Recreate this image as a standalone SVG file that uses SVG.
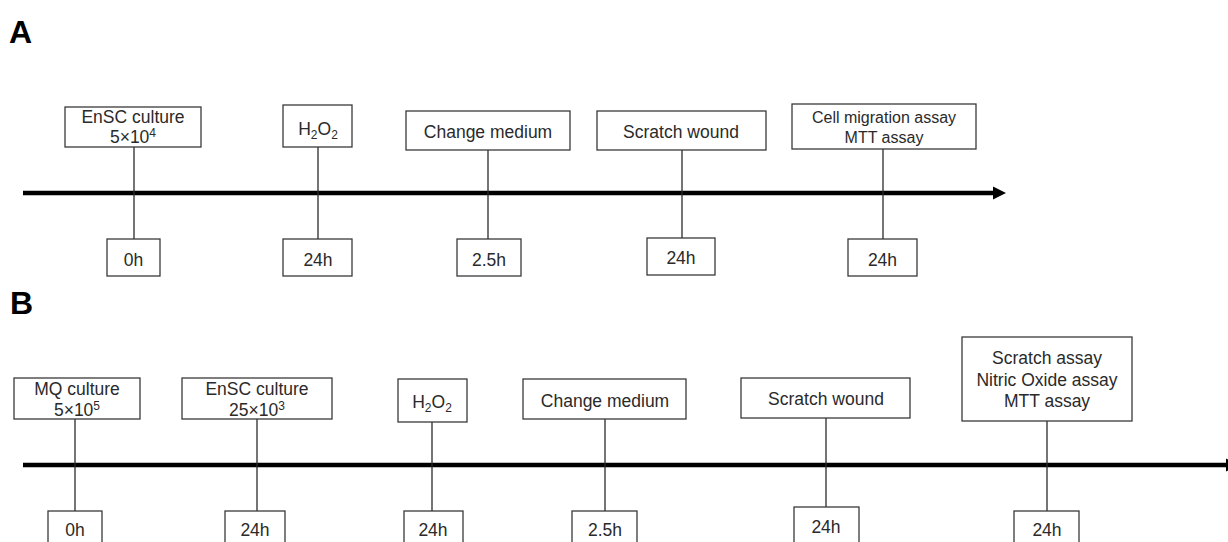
<svg xmlns="http://www.w3.org/2000/svg" width="1228" height="542" viewBox="0 0 1228 542">
<defs>
<style>
.bg{fill:#ffffff}
.box{fill:#ffffff;stroke:#3a3a3a;stroke-width:1.3}
.t{font-family:"Liberation Sans",Arial,sans-serif;font-size:17.5px;fill:#2a2a2a;text-anchor:middle}
.ts{font-size:16px}
.sub{font-size:12px}
.lbl{font-family:"Liberation Sans",Arial,sans-serif;font-size:32px;font-weight:bold;fill:#000}
.conn{stroke:#2a2a2a;stroke-width:1.3;fill:none}
.axis{stroke:#000;stroke-width:4.5;fill:none}
.head{fill:#000}
</style>
</defs>
<rect class="bg" x="0" y="0" width="1228" height="542"/>
<text class="lbl" x="9" y="43">A</text>
<text class="lbl" x="10" y="314">B</text>

<g id="connectors">
<line class="axis" x1="23" y1="193" x2="995" y2="193"/>
<polygon class="head" points="993,186.5 1006,193 993,199.5"/>
<line class="conn" x1="134" y1="147" x2="134" y2="239"/>
<line class="conn" x1="318" y1="147" x2="318" y2="239"/>
<line class="conn" x1="488" y1="150" x2="488" y2="239"/>
<line class="conn" x1="682" y1="150" x2="682" y2="238"/>
<line class="conn" x1="883" y1="149" x2="883" y2="239"/>

<line class="axis" x1="23" y1="465" x2="1228" y2="465"/>
<polygon class="head" points="1226,458.5 1239,465 1226,471.5"/>
<line class="conn" x1="75" y1="419" x2="75" y2="511"/>
<line class="conn" x1="257" y1="419" x2="257" y2="511"/>
<line class="conn" x1="432" y1="422" x2="432" y2="511"/>
<line class="conn" x1="605" y1="419" x2="605" y2="511"/>
<line class="conn" x1="826" y1="418" x2="826" y2="507"/>
<line class="conn" x1="1047" y1="421" x2="1047" y2="511"/>
</g>

<!-- Panel A top nodes -->
<g id="a-ensc">
<rect class="box" x="65" y="107" width="136" height="40"/>
<text class="t" x="133" y="123">EnSC culture</text>
<text class="t" x="133" y="143">5×10<tspan class="sub" dy="-6">4</tspan></text>
</g>
<g id="a-h2o2">
<rect class="box" x="283" y="105" width="69" height="42"/>
<text class="t" x="318" y="135">H<tspan class="sub" dy="4">2</tspan><tspan dy="-4">O</tspan><tspan class="sub" dy="4">2</tspan></text>
</g>
<g id="a-change">
<rect class="box" x="406" y="111" width="164" height="39"/>
<text class="t" x="488" y="137.5">Change medium</text>
</g>
<g id="a-scratch">
<rect class="box" x="597" y="111" width="169" height="39"/>
<text class="t" x="681" y="137.5">Scratch wound</text>
</g>
<g id="a-assay">
<rect class="box" x="792" y="104" width="184" height="45"/>
<text class="t ts" x="884" y="123">Cell migration assay</text>
<text class="t ts" x="884" y="143">MTT assay</text>
</g>

<!-- Panel A time nodes -->
<g id="a-t0">
<rect class="box" x="107" y="239" width="53" height="37"/>
<text class="t" x="133.5" y="266">0h</text>
</g>
<g id="a-t1">
<rect class="box" x="283" y="239" width="69" height="37"/>
<text class="t" x="318" y="266">24h</text>
</g>
<g id="a-t2">
<rect class="box" x="457" y="239" width="64" height="37"/>
<text class="t" x="489" y="266">2.5h</text>
</g>
<g id="a-t3">
<rect class="box" x="647" y="238" width="68" height="37"/>
<text class="t" x="681" y="264">24h</text>
</g>
<g id="a-t4">
<rect class="box" x="848" y="239" width="69" height="37"/>
<text class="t" x="882.5" y="266">24h</text>
</g>

<!-- Panel B top nodes -->
<g id="b-mq">
<rect class="box" x="14" y="378" width="126" height="41"/>
<text class="t" x="77" y="395">MQ culture</text>
<text class="t" x="77" y="416">5×10<tspan class="sub" dy="-6">5</tspan></text>
</g>
<g id="b-ensc">
<rect class="box" x="182" y="378" width="150" height="41"/>
<text class="t" x="257" y="395">EnSC culture</text>
<text class="t" x="257" y="416">25×10<tspan class="sub" dy="-6">3</tspan></text>
</g>
<g id="b-h2o2">
<rect class="box" x="398" y="379" width="69" height="43"/>
<text class="t" x="432" y="408">H<tspan class="sub" dy="4">2</tspan><tspan dy="-4">O</tspan><tspan class="sub" dy="4">2</tspan></text>
</g>
<g id="b-change">
<rect class="box" x="523" y="379" width="163" height="40"/>
<text class="t" x="605" y="406.5">Change medium</text>
</g>
<g id="b-scratch">
<rect class="box" x="741" y="378" width="169" height="40"/>
<text class="t" x="826" y="405">Scratch wound</text>
</g>
<g id="b-assay">
<rect class="box" x="962" y="337" width="170" height="84"/>
<text class="t" x="1047" y="364">Scratch assay</text>
<text class="t" x="1047" y="385.5">Nitric Oxide assay</text>
<text class="t" x="1047" y="406.5">MTT assay</text>
</g>

<!-- Panel B time nodes -->
<g id="b-t0">
<rect class="box" x="48" y="511" width="54" height="40"/>
<text class="t" x="75" y="536">0h</text>
</g>
<g id="b-t1">
<rect class="box" x="225" y="511" width="60" height="40"/>
<text class="t" x="255" y="536">24h</text>
</g>
<g id="b-t2">
<rect class="box" x="404" y="511" width="59" height="40"/>
<text class="t" x="433" y="536">24h</text>
</g>
<g id="b-t3">
<rect class="box" x="572" y="511" width="65" height="40"/>
<text class="t" x="605" y="536">2.5h</text>
</g>
<g id="b-t4">
<rect class="box" x="794" y="507" width="65" height="44"/>
<text class="t" x="826" y="532.5">24h</text>
</g>
<g id="b-t5">
<rect class="box" x="1014" y="511" width="65" height="40"/>
<text class="t" x="1047" y="536">24h</text>
</g>
</svg>
